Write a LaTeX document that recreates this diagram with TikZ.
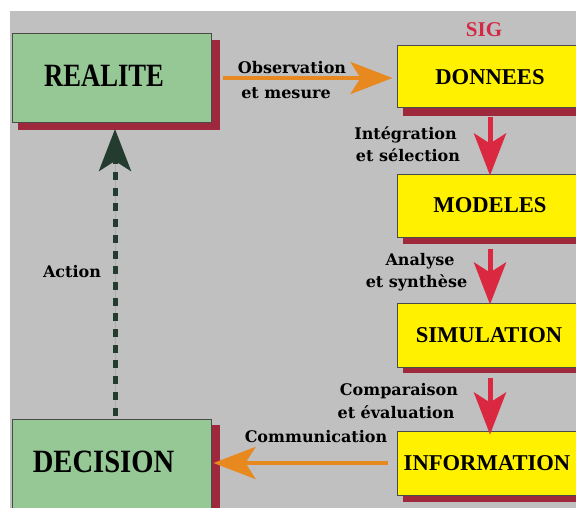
\documentclass[tikz,border=0pt]{standalone}
\usepackage{fontspec}
\setmainfont{Liberation Serif}
\newfontfamily\realitefont{Liberation Serif Bold}[FakeStretch=0.82]
\newfontfamily\decisionfont{Liberation Serif Bold}[FakeStretch=0.88]
\newfontfamily\lblfont{DejaVu Serif}
\usetikzlibrary{arrows.meta}

\definecolor{bggray}{RGB}{192,192,192}
\definecolor{boxgreen}{RGB}{150,200,150}
\definecolor{boxyellow}{RGB}{255,241,0}
\definecolor{shadowred}{RGB}{158,40,60}
\definecolor{arrowred}{RGB}{218,40,64}
\definecolor{arroworange}{RGB}{232,137,32}
\definecolor{arrowdark}{RGB}{36,60,48}
\definecolor{sigred}{RGB}{210,42,70}
\definecolor{boxline}{RGB}{74,74,74}

\tikzset{
  box/.style={draw=boxline, line width=1pt, inner sep=0pt},
  greenbox/.style={box, fill=boxgreen, minimum width=199pt},
  yellowbox/.style={box, fill=boxyellow, minimum width=186pt},
  boxshadow/.style={fill=shadowred},
  realitetxt/.style={anchor=base, font=\realitefont\fontsize{32.5}{32.5}\selectfont},
  decisiontxt/.style={anchor=base, font=\decisionfont\fontsize{32.5}{32.5}\selectfont},
  ytxt/.style={anchor=base, font=\bfseries\fontsize{22.6}{22.6}\selectfont},
  lbl/.style={anchor=base, font=\lblfont\bfseries\fontsize{16}{16}\selectfont},
  bighead/.style={-{Stealth[length=42pt, width=32pt, inset=10pt]}},
  orangearrow/.style={bighead, draw=arroworange, fill=arroworange, line width=4.5pt},
  redarrow/.style={bighead, draw=arrowred, fill=arrowred, line width=5pt},
  actionarrow/.style={bighead, draw=arrowdark, fill=arrowdark, line width=5pt,
    dash pattern=on 8pt off 7.7pt},
}

\begin{document}
\begin{tikzpicture}[x=1pt, y=-1pt]
\useasboundingbox (0,0) rectangle (576,508);
\clip (0,0) rectangle (576,508);
\fill[bggray] (10,11) rectangle (576,508);

% drop shadows behind the boxes
\fill[boxshadow] (18,40) rectangle (220,130);
\fill[boxshadow] (18,425) rectangle (220,515);
\fill[boxshadow] (403,54) rectangle (590,116);
\fill[boxshadow] (403,183) rectangle (590,244);
\fill[boxshadow] (403,311) rectangle (590,373);
\fill[boxshadow] (403,439) rectangle (590,502);

% boxes
\node[greenbox, minimum height=89pt] (realite) at (111.5,78) {};
\node[greenbox, minimum height=92pt] (decision) at (111.5,465) {};
\node[yellowbox, minimum height=62pt] (donnees) at (490,76.5) {};
\node[yellowbox, minimum height=62pt] (modeles) at (490,206) {};
\node[yellowbox, minimum height=64pt] (simulation) at (490,335) {};
\node[yellowbox, minimum height=64pt] (information) at (490,463) {};

% box titles
\node[realitetxt] (realite-t) at (104,87) {REALITE};
\node[decisiontxt] (decision-t) at (103.5,472) {DECISION};
\node[ytxt] (donnees-t) at (490,85) {DONNEES};
\node[ytxt] (modeles-t) at (490,212) {MODELES};
\node[ytxt] (simulation-t) at (489,342) {SIMULATION};
\node[ytxt] (information-t) at (487,470) {INFORMATION};
\node[anchor=base, text=sigred, font=\bfseries\fontsize{21}{21}\selectfont] (sig) at (484,37) {SIG};

% connectors
\draw[orangearrow] ([xshift=11pt]realite.east) -- ([xshift=-4pt]donnees.west |- realite.east);
\draw[redarrow] ([yshift=-9pt]donnees.south) -- ([yshift=-1pt]modeles.north);
\draw[redarrow] ([yshift=-11pt]modeles.south) -- ([yshift=-2pt]simulation.north);
\draw[redarrow] ([yshift=-10pt]simulation.south) -- ([yshift=-4pt]information.north);
\draw[orangearrow] ([xshift=-9pt]information.west) -- ([xshift=2pt]decision.east |- information.west);
\draw[actionarrow] ([xshift=3.5pt, yshift=3pt]decision.north) -- ([xshift=3.5pt, yshift=-6pt]realite.south);

% connector labels
\node[lbl] (obs1) at (292,74) {Observation};
\node[lbl] (obs2) at (286,99) {et mesure};
\node[lbl] (int1) at (405.5,140) {Intégration};
\node[lbl] (int2) at (408,162) {et sélection};
\node[lbl] (ana1) at (420,265) {Analyse};
\node[lbl] (ana2) at (416.5,287) {et synthèse};
\node[lbl] (cmp1) at (399,395) {Comparaison};
\node[lbl] (cmp2) at (396,418) {et évaluation};
\node[lbl] (com) at (316,442) {Communication};
\node[lbl] (act) at (72,277) {Action};
\end{tikzpicture}
\end{document}
